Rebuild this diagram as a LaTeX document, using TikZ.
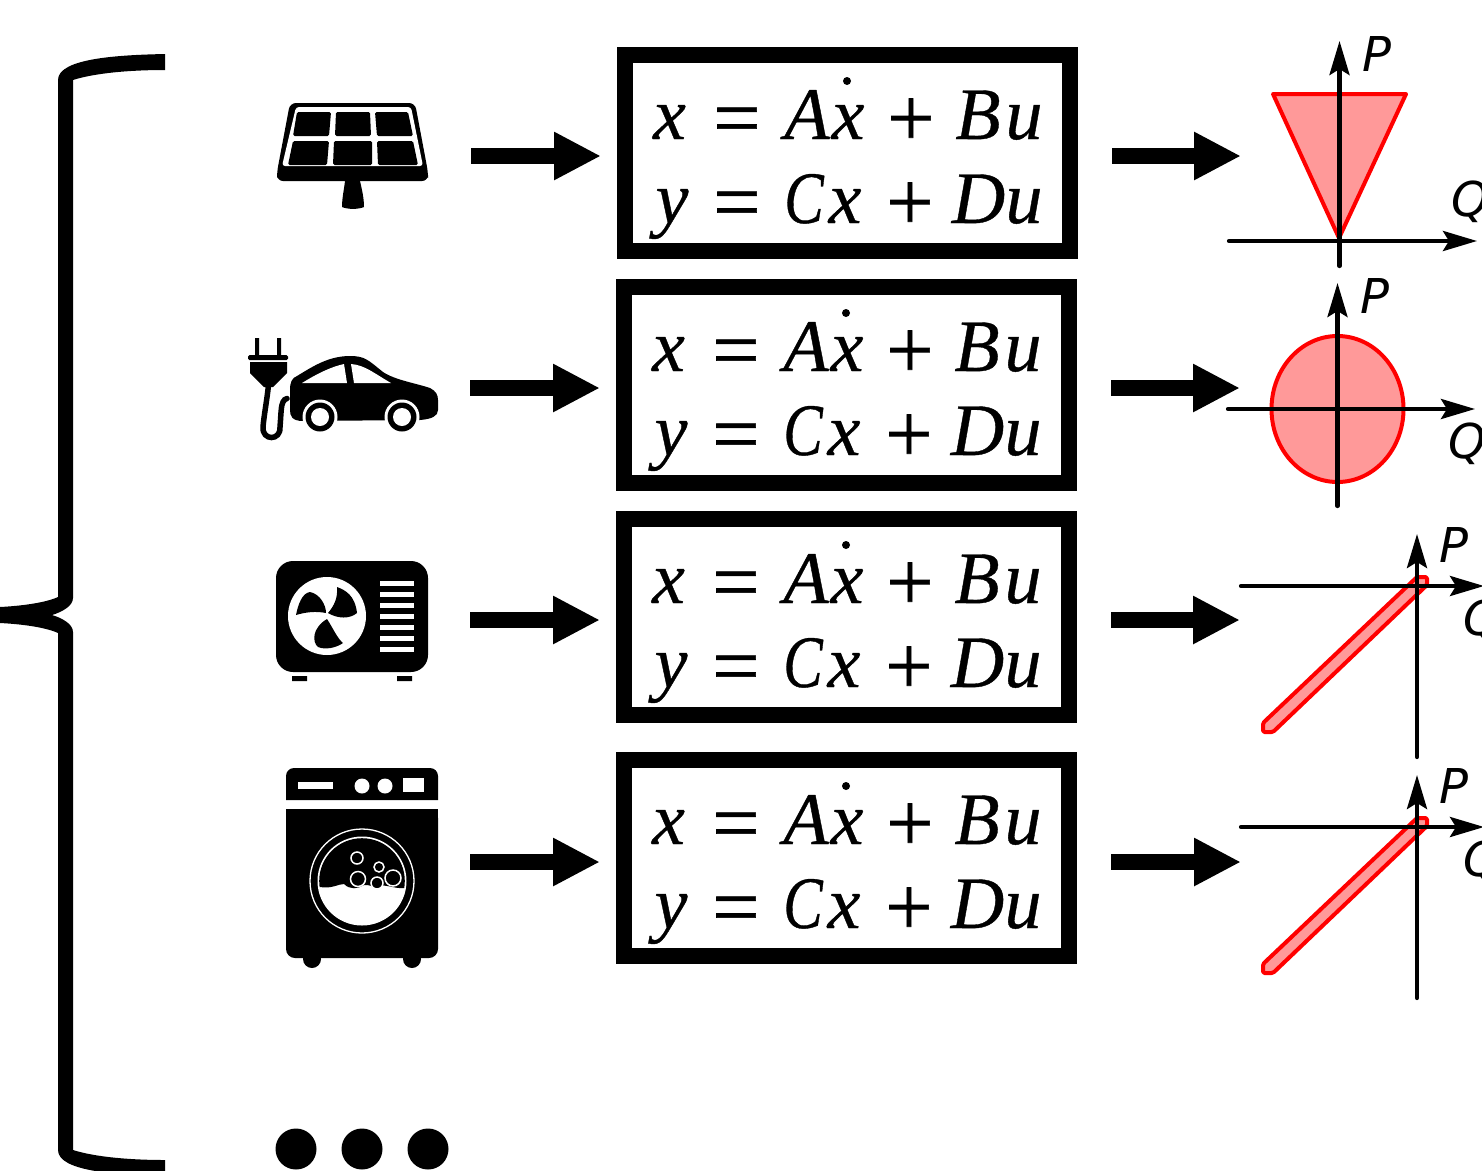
\documentclass[tikz,border=0pt]{standalone}
\usepackage{fontspec}
\usetikzlibrary{arrows.meta}
\newfontfamily\axf{DejaVu Sans}
\newfontfamily\eqit{Liberation Serif}[ItalicFeatures={FakeBold=0.5}]
\newfontfamily\eqrm{Liberation Serif}[FakeBold=0.8]
\definecolor{regionfill}{HTML}{FF9999}
\newcommand\solarcell[4]{\fill[ink,rounded corners=1.5pt] #1 -- #2 -- #3 -- #4 -- cycle;}
\tikzset{
  eqbox/.style={draw=black,fill=white,line width=16pt,minimum width=445pt,minimum height=196pt,inner sep=0pt},
  eqtxt/.style={anchor=base,inner sep=0pt,font=\eqit\itshape\fontsize{74}{74}\selectfont},
  eqop/.style={anchor=base,inner sep=0pt,font=\eqrm\fontsize{84}{84}\selectfont},
  eqdot/.style={circle,fill=black,minimum size=8pt,inner sep=0pt},
  bigarrow/.style={line width=16pt,-{Triangle[length=47pt,width=45pt]}},
  axisline/.style={line width=4.2pt,line cap=round,-{Stealth[length=34pt,width=20pt,inset=6pt]}},
  axlabel/.style={inner sep=0pt,font=\axf\itshape\fontsize{48}{48}\selectfont},
  region/.style={draw=red,fill=regionfill,line width=4pt,line join=round},
  bigdot/.style={circle,fill=black,minimum size=41pt,inner sep=0pt},
  ink/.style={fill=black,draw=none},
  paper/.style={fill=white,draw=none}
}
\begin{document}
\begin{tikzpicture}[x=1pt,y=-1pt]
\clip (0,0) rectangle (1482,1170);
\fill[white] (0,0) rectangle (1482,1170);
% brace
\fill[black] (165,54) .. controls (120,55) and (58,58) .. (58,80)
  -- (58,597) .. controls (45,603) and (20,606) .. (0,607)
  -- (0,623) .. controls (20,624) and (45,627) .. (58,633)
  -- (58,1150) .. controls (58,1172) and (120,1175) .. (165,1176)
  -- (165,1160) .. controls (130,1160) and (95,1157) .. (73,1150)
  -- (73,632) .. controls (73,624) and (62,618) .. (52,615)
  .. controls (62,612) and (73,606) .. (73,598)
  -- (73,80) .. controls (95,73) and (130,70) .. (165,70) -- cycle;
% solar panel
\fill[ink,rounded corners=6pt] (290,103) -- (415,103) -- (428,172) -- (428,181) -- (277,181) -- (277,172) -- cycle;
\fill[paper,rounded corners=3pt] (296,107) -- (411,107) -- (423,166) -- (282,166) -- cycle;
\solarcell{(297,112)}{(331,112)}{(329,136)}{(293,136)}
\solarcell{(336,112)}{(370,112)}{(371,136)}{(335,136)}
\solarcell{(375,112)}{(408,112)}{(413,136)}{(377,136)}
\solarcell{(293,141)}{(329,141)}{(327,165)}{(288,165)}
\solarcell{(334,141)}{(372,141)}{(372,165)}{(333,165)}
\solarcell{(377,141)}{(413,141)}{(418,165)}{(378,165)}
\fill[ink] (345,181) -- (360,181) .. controls (362,190) and (364,198) .. (364,207) .. controls (358,209.5) and (348,209.5) .. (342,207) .. controls (342,198) and (344,190) .. (345,181) -- cycle;
% plug and car
\fill[ink] (255,338) rectangle (259,357) (277,338) rectangle (281,357);
\fill[ink,rounded corners=1.5pt] (248,355) rectangle (288,360);
\fill[ink] (250,362) -- (287,362) -- (287,373) -- (273,387) -- (264,387) -- (250,373) -- cycle;
\draw[black,line width=5.5pt,line cap=round] (268.5,385) .. controls (267,400) and (264,415) .. (263,427) .. controls (262,441) and (281,441) .. (280,427) .. controls (281,415) and (281,405) .. (283,402) .. controls (284,400) and (285,399) .. (287,398.5);
\fill[ink] (290,390) .. controls (290,382) and (292,378) .. (297,376) .. controls (312,367) and (328,356) .. (350,356) .. controls (365,356) and (368,360) .. (383,372) .. controls (395,380) and (415,383) .. (430,388) .. controls (436,391) and (438,395) .. (438,400) -- (438,410) .. controls (438,416) and (432,419) .. (420,420) -- (303,421) .. controls (292,421) and (290,416) .. (290,410) -- cycle;
\fill[paper] (302,383) .. controls (315,375) and (330,367) .. (344,364) -- (347,383) -- cycle;
\fill[paper] (351,364) .. controls (365,365) and (375,374) .. (391,383) -- (354,383) -- cycle;
\foreach \cx in {320,402}{
  \fill[paper] (\cx,417) circle (17.5);
  \fill[ink] (\cx,417) circle (14.5);
  \fill[paper] (\cx,417) circle (9);
}
% outdoor unit
\fill[ink,rounded corners=17pt] (276,561) rectangle (428,672);
\fill[ink] (292,676) rectangle (307,681) (397,676) rectangle (412,681);
\fill[paper] (327,616) circle (39);
\fill[ink] (296,615) .. controls (298,605) and (302,593) .. (310,592) .. controls (320,594) and (326,605) .. (326,613) .. controls (316,611) and (306,612) .. (296,615) -- cycle;
\fill[ink] (337,587) .. controls (345,590) and (355,595) .. (357,613) .. controls (350,619) and (338,619) .. (328,613) .. controls (334,606) and (338,598) .. (337,587) -- cycle;
\fill[ink] (327,619) .. controls (333,628) and (337,638) .. (343,643) .. controls (336,648) and (325,650) .. (318,647) .. controls (312,642) and (312,628) .. (327,619) -- cycle;
\foreach \sy in {581,592,603,614,625,636,647}{
  \fill[paper] (380,\sy) rectangle (414,\sy+4.5);
}
% washing machine
\fill[ink,rounded corners=8pt] (286,800) -- (286,768) -- (438,768) -- (438,800);
\fill[ink] (286,785) rectangle (438,800);
\fill[paper] (298,782) rectangle (333,789);
\fill[paper] (362,786) circle (7.5) (385,786) circle (7.5);
\fill[paper] (403,778) rectangle (424,792);
\fill[ink] (312,959) circle (9) (412,959) circle (9);
\fill[ink,rounded corners=9pt] (286,809) -- (438,809) -- (438,958) -- (286,958) -- cycle;
\fill[ink] (286,809) rectangle (438,830);
\draw[white,line width=1.3pt] (362,881) circle (52);
\fill[paper] (362,881) circle (44.5);
\begin{scope}
  \clip (362,881) circle (42.8);
  \fill[ink] (310,825) -- (415,825) -- (415,889) -- (404,888) .. controls (395,889) and (385,884) .. (380,886) .. controls (374,889) and (370,884) .. (364,885) .. controls (358,889) and (350,890) .. (344,884) .. controls (338,884) and (332,889) .. (320,887) -- (310,887) -- cycle;
\end{scope}
\foreach \bx/\by/\br in {357/858/6,379/867/5,358/879/7.5,393/878/8,377/883/6}{
  \fill[ink] (\bx,\by) circle (\br);
  \draw[white,line width=1.5pt] (\bx,\by) circle (\br);
}
% three dots
\node[bigdot] (dot1) at (296,1149) {};
\node[bigdot] (dot2) at (362,1149) {};
\node[bigdot] (dot3) at (428,1149) {};
% equation rows, connectors, plots anchors
\foreach \r/\dx/\dy in {1/0/0,2/-1/232,3/-1/464,4/-1/705}{
  \node[eqbox] (box\r) at (847.5+\dx,153+\dy) {};
  \node[eqdot] (dot\r x) at (847+\dx,81+\dy) {};
  \foreach \cx/\g in {669.5/x,807/A,848/x,978/B,1024/u}{
    \node[eqtxt] (la\r-\cx) at (\cx+\dx,139+\dy) {\g};
  }
  \foreach \cx/\g in {737/=,911/+}{
    \node[eqop] (lb\r-\cx) at (\cx+\dx,146+\dy) {\g};
  }
  \foreach \cx/\g in {672/y,845/x,978.5/D,1024/u}{
    \node[eqtxt] (lc\r-\cx) at (\cx+\dx,223+\dy) {\g};
  }
  \node[eqtxt] (lc\r-C) at (804+\dx,223+\dy) {\scalebox{0.8}[1]{C}};
  \foreach \cx/\g in {737/=,910/+}{
    \node[eqop] (ld\r-\cx) at (\cx+\dx,230+\dy) {\g};
  }
}
\coordinate (icon1) at (471,156);
\coordinate (icon2) at (470,388);
\coordinate (icon3) at (470,620);
\coordinate (icon4) at (470,862);
\coordinate (plot1) at (1241,156);
\coordinate (plot2) at (1240,388);
\coordinate (plot3) at (1240,620);
\coordinate (plot4) at (1241,862);
\foreach \r in {1,2,3,4}{
  \draw[bigarrow,shorten >=16pt] (icon\r) -- (icon\r -| box\r.west);
  \draw[bigarrow,shorten <=34pt] (plot\r -| box\r.east) -- (plot\r);
}
% plot 1
\draw[region] (1273,94) -- (1406,94) -- (1339,238) -- cycle;
\draw[axisline] (1339.5,266) -- (1339.5,41);
\draw[axisline] (1229,241) -- (1477,241);
\node[axlabel] (p1) at (1377,54) {P};
\node[axlabel] (q1) at (1470,202) {Q};
% plot 2
\draw[region] (1337.5,409) ellipse (66 and 73);
\draw[axisline] (1337.5,506) -- (1337.5,283);
\draw[axisline] (1228,409) -- (1475,409);
\node[axlabel] (p2) at (1375,296) {P};
\node[axlabel] (q2) at (1467,444) {Q};
% plots 3 and 4
\foreach \r/\dy in {3/0,4/241}{
  \draw[region,rounded corners=1.5pt] (1417,577+\dy) -- (1427,577+\dy) -- (1427,585+\dy) -- (1273,732+\dy) -- (1263,732+\dy) -- (1263,723+\dy) -- cycle;
  \draw[axisline] (1417,757+\dy) -- (1417,534+\dy);
  \draw[axisline] (1241,586+\dy) -- (1484,586+\dy);
  \node[axlabel] (p\r) at (1454,545+\dy) {P};
  \node[axlabel] (q\r) at (1482,621+\dy) {Q};
}
\end{tikzpicture}
\end{document}
